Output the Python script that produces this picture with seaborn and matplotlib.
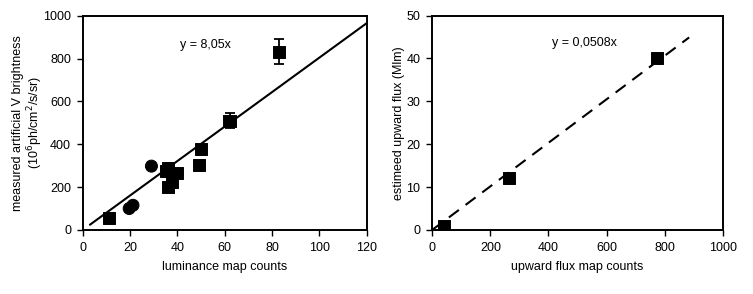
import matplotlib
matplotlib.use("Agg")
import matplotlib.pyplot as plt
import seaborn as sns
import numpy as np
import pandas as pd

# Left panel data
sq_x = [11, 35, 36, 36, 37.5, 40, 49, 50, 62, 83]
sq_y = [55, 275, 290, 200, 226, 268, 303, 376, 510, 833]
sq_err = [0, 0, 0, 0, 0, 0, 0, 0, 35, 60]
circ_x = [19.6, 21.2, 29]
circ_y = [100, 115, 298]
slope_left = 8.05
fit_left_x = [3, 120]

# Right panel data
flux_x = [40, 265, 775]
flux_y = [0.8, 12, 40]
slope_right = 0.0508
fit_right_x = [0, 884]

sns.set_theme(style="white")
plt.rcParams['font.family'] = ['Liberation Sans', 'DejaVu Sans']
plt.rcParams['text.color'] = 'black'
plt.rcParams['axes.labelcolor'] = 'black'

fig = plt.figure(figsize=(7.53, 2.94), dpi=100)
ax1 = fig.add_axes([0.110, 0.218, 0.377, 0.728])
ax2 = fig.add_axes([0.574, 0.218, 0.386, 0.729])

fs = 9
# Left
df_l = pd.DataFrame({"x": sq_x + circ_x, "y": sq_y + circ_y,
                     "kind": ["sq"] * len(sq_x) + ["ci"] * len(circ_x)})
ax1.plot(fit_left_x, [slope_left * v for v in fit_left_x], color="black", lw=1.5, zorder=1)
errs = [(x, y, e) for x, y, e in zip(sq_x, sq_y, sq_err) if e > 0]
ax1.errorbar([e[0] for e in errs], [e[1] for e in errs], yerr=[e[2] for e in errs],
             fmt="none", ecolor="black", elinewidth=1.3, capsize=3.5, capthick=1.3, zorder=2)
sns.scatterplot(data=df_l, x="x", y="y", style="kind", markers={"sq": "s", "ci": "o"},
                color="black", s=75, edgecolor="black", legend=False, ax=ax1, zorder=3)
ax1.set_xlim(0, 120)
ax1.set_ylim(0, 1000)
ax1.set_xticks(range(0, 121, 20))
ax1.set_yticks(range(0, 1001, 200))
ax1.set_xlabel("luminance map counts", fontsize=fs, labelpad=5, color="black")
ax1.set_ylabel("measured artificial V brightness\n(10$^6$ph/cm$^2$/s/sr)", fontsize=fs,
               linespacing=1.1, color="black")
ax1.yaxis.set_label_coords(-0.135, 0.5)
ax1.text(41, 862, "y = 8,05x", fontsize=fs, va="center", ha="left", color="black")

# Right
df_r = pd.DataFrame({"x": flux_x, "y": flux_y})
ax2.plot(fit_right_x, [slope_right * v for v in fit_right_x], color="black", lw=1.5,
         dashes=(6, 4), zorder=1)
sns.scatterplot(data=df_r, x="x", y="y", marker="s", color="black", s=75,
                edgecolor="black", legend=False, ax=ax2, zorder=3)
ax2.set_xlim(0, 1000)
ax2.set_ylim(0, 50)
ax2.set_xticks(range(0, 1001, 200))
ax2.set_yticks(range(0, 51, 10))
ax2.set_xlabel("upward flux map counts", fontsize=fs, labelpad=5, color="black")
ax2.set_ylabel("estimeed upward flux (Mlm)", fontsize=fs, color="black")
ax2.yaxis.set_label_coords(-0.093, 0.5)
ax2.text(411, 43.5, "y = 0,0508x", fontsize=fs, va="center", ha="left", color="black")

for ax in (ax1, ax2):
    for s in ax.spines.values():
        s.set_color("black")
        s.set_linewidth(1.4)
    ax.tick_params(axis="both", direction="out", length=4.5, width=1.0, colors="black",
                   labelsize=fs, pad=4, bottom=True, left=True, top=False, right=False)

fig.savefig("out.png", dpi=100)
